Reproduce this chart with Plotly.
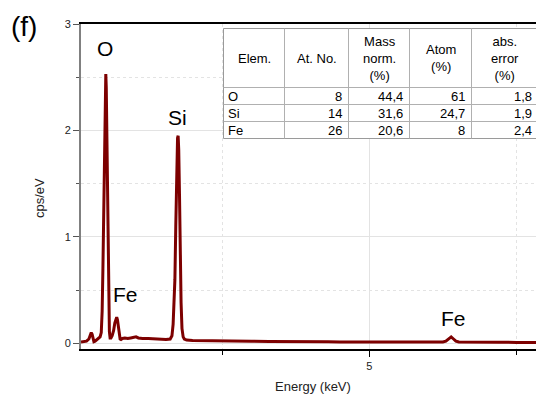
import plotly.graph_objects as go

# ---- spectrum (keV, cps/eV) ----
energy = [0.106, 0.15, 0.20, 0.24, 0.262, 0.28, 0.295, 0.31, 0.325, 0.345, 0.37, 0.40, 0.43,
          0.45, 0.465, 0.478, 0.49, 0.50, 0.51, 0.52, 0.527, 0.535, 0.545, 0.555, 0.565,
          0.575, 0.588, 0.60, 0.615, 0.635, 0.66, 0.68, 0.70, 0.712, 0.725, 0.74, 0.755,
          0.77, 0.785, 0.81, 0.85, 0.90, 0.95, 1.00, 1.04, 1.08, 1.15, 1.25, 1.35, 1.45,
          1.55, 1.62, 1.65, 1.67, 1.685, 1.70, 1.715, 1.73, 1.745, 1.755, 1.765, 1.778,
          1.79, 1.805, 1.82, 1.84, 1.86, 1.90, 2.0, 2.2, 2.5, 2.8, 3.0, 3.3, 3.5, 3.8, 4.0,
          4.3, 4.5, 4.8, 5.0, 5.3, 5.5, 5.8, 6.0, 6.25, 6.30, 6.35, 6.39, 6.43, 6.47, 6.52,
          6.70, 6.86, 6.95, 7.2, 7.5, 7.9]
counts = [0.012, 0.015, 0.02, 0.04, 0.08, 0.10, 0.085, 0.04, 0.015, 0.02, 0.03, 0.04, 0.06,
          0.10, 0.3, 0.7, 1.3, 1.8, 2.3, 2.5, 2.53, 2.4, 1.95, 1.3, 0.7,
          0.3, 0.11, 0.05, 0.05, 0.07, 0.12, 0.19, 0.235, 0.245, 0.22, 0.15, 0.08,
          0.04, 0.035, 0.045, 0.05, 0.045, 0.05, 0.055, 0.06, 0.05, 0.045, 0.045, 0.04, 0.04,
          0.035, 0.04, 0.07, 0.18, 0.35, 0.6, 1.1, 1.7, 1.93, 1.95, 1.82, 1.4,
          0.85, 0.38, 0.14, 0.06, 0.04, 0.03, 0.025, 0.025, 0.022, 0.02, 0.018, 0.017, 0.015, 0.014, 0.012,
          0.013, 0.012, 0.011, 0.01, 0.011, 0.01, 0.01, 0.01, 0.012, 0.02, 0.045, 0.06, 0.04, 0.02, 0.012,
          0.012, 0.016, 0.01, 0.009, 0.008, 0.008]

# ---- peak labels ----
peak_labels = ["O", "Si", "Fe", "Fe"]
peak_x = [0.51, 1.75, 0.855, 6.43]
peak_y = [2.77, 2.12, 0.46, 0.235]

# ---- table ----
tbl_headers = ["Elem.", "At. No.", "Mass<br>norm.<br>(%)", "Atom<br>(%)", "abs.<br>error<br>(%)"]
tbl_elem = ["O", "Si", "Fe"]
tbl_atno = ["8", "14", "26"]
tbl_mass = ["44,4", "31,6", "20,6"]
tbl_atom = ["61", "24,7", "8"]
tbl_err = ["1,8", "1,9", "2,4"]

W, H = 536, 396
L, R, T, B = 81, 536, 24, 349
FONT = "Arial, Liberation Sans, sans-serif"


def px(x):
    return (x - L) / (R - L)


def py(y):
    return (B - y) / (B - T)


fig = go.Figure()
fig.add_trace(go.Scatter(x=energy, y=counts, mode="lines",
                         line=dict(color="#7d0000", width=3), hoverinfo="skip",
                         showlegend=False))

annotations = []
for t, x, y in zip(peak_labels, peak_x, peak_y):
    annotations.append(dict(x=x, y=y, xref="x", yref="y", text=t, showarrow=False,
                            xanchor="center", yanchor="middle",
                            font=dict(size=21, color="black", family=FONT)))


def ann(x, y, text, size=13, color="#222", xanchor="center", **kw):
    annotations.append(dict(x=px(x), y=py(y), xref="paper", yref="paper", text=text,
                            showarrow=False, xanchor=xanchor, yanchor="middle",
                            font=dict(size=size, color=color, family=FONT), **kw))


ann(24, 26, "(f)", size=28, color="black")
ann(313, 386, "Energy (keV)")
ann(39, 198, "cps/eV", textangle=-90)

# table geometry (pixels)
col_edges = [223.5, 284.5, 348.5, 409.5, 471.5, 540]
row_edges = [28.5, 87.5, 104.5, 121.5, 138.5]
shapes = []
shapes.append(dict(type="rect", xref="paper", yref="paper", x0=px(col_edges[0]), x1=px(col_edges[-1]),
                   y0=py(row_edges[-1]), y1=py(row_edges[0]), fillcolor="white",
                   line=dict(color="#9a9a9a", width=1), layer="above"))
for ce in col_edges[1:-1]:
    shapes.append(dict(type="line", xref="paper", yref="paper", x0=px(ce), x1=px(ce),
                       y0=py(row_edges[-1]), y1=py(row_edges[0]),
                       line=dict(color="#b0b0b0", width=1), layer="above"))
for re_ in row_edges[1:-1]:
    shapes.append(dict(type="line", xref="paper", yref="paper", x0=px(col_edges[0]), x1=px(col_edges[-1]),
                       y0=py(re_), y1=py(re_), line=dict(color="#b0b0b0", width=1), layer="above"))

hy = (row_edges[0] + row_edges[1]) / 2
for i, h in enumerate(tbl_headers):
    cx = (col_edges[i] + col_edges[i + 1]) / 2
    if i == 4:
        cx = 505
    ann(cx, hy, h, color="black", align="center")
cols = [tbl_atno, tbl_mass, tbl_atom, tbl_err]
for r in range(3):
    ry = (row_edges[r + 1] + row_edges[r + 2]) / 2
    ann(col_edges[0] + 2, ry, tbl_elem[r], color="black", xanchor="left")
    for c, vals in enumerate(cols):
        right = col_edges[c + 2] - 5 if c < 3 else 534
        ann(right, ry, vals[r], color="black", xanchor="right")

fig.update_layout(
    width=W, height=H,
    margin=dict(l=L, r=W - R, t=T, b=H - B, pad=0),
    paper_bgcolor="white", plot_bgcolor="white",
    font=dict(family=FONT, color="#222"),
    annotations=annotations, shapes=shapes,
    xaxis=dict(range=[0.106, 7.83], dtick=5, tick0=0, ticks="outside", ticklen=6,
               tickcolor="black", tickwidth=1.2, showline=True, linecolor="black", linewidth=1.6,
               mirror=True, showgrid=True, gridcolor="#e3e3e3", gridwidth=1, zeroline=False,
               tickfont=dict(size=11, color="#222", family=FONT),
               minor=dict(dtick=2.5, tick0=0, ticks="outside", ticklen=4, tickcolor="black",
                          showgrid=True, gridcolor="#e3e3e3", griddash="dot")),
    yaxis=dict(range=[-0.054, 3.0], dtick=1, tick0=0, ticks="outside", ticklen=6,
               tickcolor="#555", tickwidth=1, showline=True, linecolor="#808080", linewidth=2,
               mirror=False, showgrid=True, gridcolor="#e3e3e3", gridwidth=1, zeroline=False,
               tickfont=dict(size=11, color="#222", family=FONT),
               minor=dict(dtick=0.5, tick0=0, ticks="outside", ticklen=3, tickcolor="#555",
                          showgrid=True, gridcolor="#e3e3e3", griddash="dot")),
)

fig.write_html("out.html", config={"displayModeBar": False},
               post_script="document.body.style.margin='0';document.body.style.overflow='hidden';")
